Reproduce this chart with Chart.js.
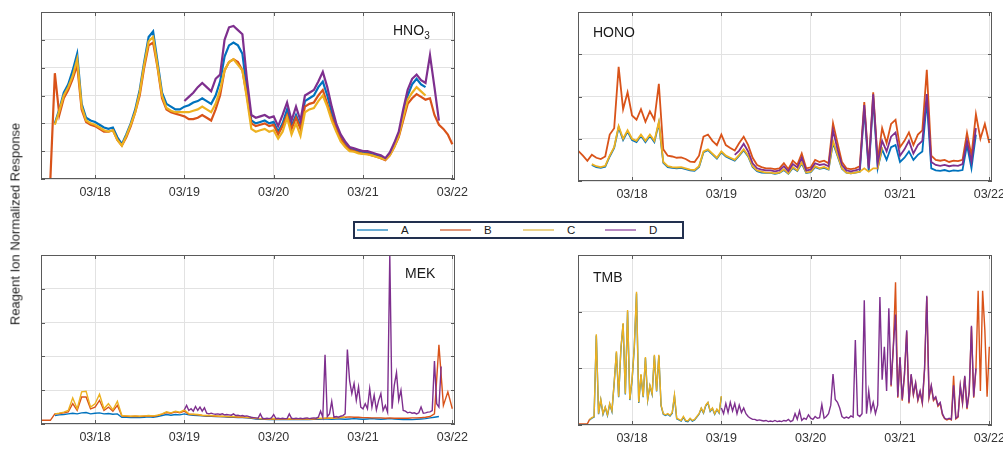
<!DOCTYPE html>
<html>
<head>
<meta charset="utf-8">
<script src="https://cdn.jsdelivr.net/npm/chart.js@4.4.1/dist/chart.umd.min.js"></script>
<style>
  html, body { margin: 0; padding: 0; background: #fff; }
  #page { position: relative; width: 1003px; height: 450px; overflow: hidden;
          font-family: "Liberation Sans", Arial, sans-serif; color: #222; }
  #page canvas { position: absolute; }
  .title { position: absolute; font-size: 14px; line-height: 14px; color: #1a1a1a; white-space: nowrap; }
  .title sub { font-size: 10px; line-height: 0; vertical-align: -4px; }
  #ylabel { position: absolute; left: 15px; top: 224px; white-space: nowrap; font-size: 13px; color: #222;
            transform: translate(-50%, -50%) rotate(-90deg); }
  #legend { position: absolute; left: 353px; top: 221px; width: 331px; height: 18px;
            box-sizing: border-box; border: 2px solid #22304f; background: #fff; }
  .item { position: absolute; top: 0; height: 14px; }
  .item i { position: absolute; left: 0; top: 6px; width: 31px; height: 0; border-top: 2px solid; }
  .item span { position: absolute; left: 44px; top: 0; font-size: 11.5px; line-height: 14px; color: #1a1a1a; }
</style>
</head>
<body>
<div id="page">
  <canvas id="hno3"></canvas>
  <canvas id="hono"></canvas>
  <canvas id="mek"></canvas>
  <canvas id="tmb"></canvas>
  <div class="title" style="left:393px;top:23px">HNO<sub>3</sub></div>
  <div class="title" style="left:593px;top:25px">HONO</div>
  <div class="title" style="left:405px;top:266px">MEK</div>
  <div class="title" style="left:593px;top:270px">TMB</div>
  <div id="ylabel">Reagent Ion Normalized Response</div>
  <div id="legend">
    <div class="item" style="left:2px"><i style="border-color:#6aaed6"></i><span>A</span></div>
    <div class="item" style="left:85px"><i style="border-color:#e0977a"></i><span>B</span></div>
    <div class="item" style="left:168px"><i style="border-color:#ecd38a"></i><span>C</span></div>
    <div class="item" style="left:250px"><i style="border-color:#b889c2"></i><span>D</span></div>
  </div>
</div>
<script>
// time axis in days since 03/17 00:00
const tickDays = [1, 2, 3, 4, 5];
const tickLabels = ['03/18', '03/19', '03/20', '03/21', '03/22'];

// ---- HNO3 (step 0.05 d) ----
const hno3A = [ // from 0.55
  2.0, 2.5, 3.1, 3.4, 3.9, 4.5, 2.7, 2.2, 2.1, 2.05,
  1.95, 1.85, 1.8, 1.85, 1.5, 1.25, 1.6, 2.0, 2.5, 3.2,
  4.2, 5.1, 5.3, 4.2, 3.1, 2.7, 2.6, 2.5, 2.5, 2.6,
  2.65, 2.75, 2.8, 2.9, 2.8, 2.7, 3.0, 3.5, 4.4, 4.8,
  4.9, 4.8, 4.5, 3.2, 2.1, 2.0, 2.05, 2.1, 2.0, 2.05,
  1.7, 2.0, 2.5, 1.9, 2.3, 1.9, 2.8, 2.9, 3.0, 3.3,
  3.5, 3.0, 2.4, 1.9, 1.5, 1.25, 1.1, 1.05, 1.0, 0.95,
  0.95, 0.9, 0.85, 0.8, 0.72, 0.9, 1.2, 1.6, 2.3, 3.0,
  3.4, 3.6, 3.4, 3.3
];
const hno3B = [ // from 0.40
  0, 0, 0, 3.8, 2.3, 2.9, 3.2, 3.6, 4.1, 2.5,
  2.05, 1.95, 1.9, 1.8, 1.7, 1.7, 1.75, 1.4, 1.2, 1.5,
  1.9, 2.4, 3.0, 4.0, 4.8, 4.9, 4.0, 2.9, 2.5, 2.4,
  2.35, 2.3, 2.25, 2.15, 2.15, 2.2, 2.3, 2.2, 2.1, 2.5,
  3.0, 3.9, 4.2, 4.3, 4.2, 3.9, 3.0, 2.0, 1.9, 1.95,
  2.0, 1.9, 1.95, 1.6, 1.9, 2.3, 1.8, 2.2, 1.8, 2.6,
  2.7, 2.75, 3.0, 3.2, 2.7, 2.2, 1.8, 1.45, 1.2, 1.05,
  1.0, 0.95, 0.9, 0.9, 0.85, 0.8, 0.75, 0.68, 0.85, 1.15,
  1.5, 2.1, 2.7, 2.9, 3.05, 2.95, 2.85, 2.9, 2.3, 1.95,
  1.8, 1.6, 1.25
];
const hno3C = [ // from 0.55
  1.95, 2.45, 3.0, 3.3, 3.7, 4.3, 2.6, 2.1, 2.0, 1.95,
  1.85, 1.75, 1.7, 1.75, 1.4, 1.2, 1.55, 1.95, 2.4, 3.1,
  4.1, 4.95, 5.1, 4.05, 3.0, 2.55, 2.45, 2.4, 2.4, 2.4,
  2.4, 2.45, 2.5, 2.6, 2.5, 2.4, 2.7, 3.2, 3.9, 4.2,
  4.3, 4.1, 3.9, 2.9, 1.8, 1.7, 1.75, 1.8, 1.7, 1.75,
  1.45, 1.7, 2.2, 1.6, 2.0, 1.55, 2.4, 2.5, 2.55, 2.8,
  3.0, 2.6, 2.1, 1.7, 1.35, 1.15, 1.0, 0.98, 0.92, 0.9,
  0.88, 0.85, 0.8, 0.75, 0.7, 0.85, 1.15, 1.55, 2.2, 2.85,
  3.1, 3.3, 3.15, 3.0
];
const hno3D = [ // from 2.00
  2.8, 2.95, 3.1, 3.3, 3.45, 3.3, 3.15, 3.6, 3.75, 5.0,
  5.45, 5.5, 5.35, 5.2, 3.6, 2.3, 2.2, 2.25, 2.3, 2.2,
  2.25, 1.9, 2.3, 2.75, 2.1, 2.6, 2.1, 3.0, 3.1, 3.2,
  3.5, 3.85, 3.3, 2.6, 2.0, 1.6, 1.35, 1.15, 1.1, 1.05,
  1.0, 1.0, 0.95, 0.9, 0.85, 0.75, 0.95, 1.3, 1.7, 2.5,
  3.2, 3.6, 3.75, 3.55, 3.45, 4.45, 3.3, 2.1
];

// ---- HONO (step 0.05 d) ----
const honoA = [ // from 0.55
  0.38, 0.33, 0.31, 0.34, 0.58, 0.78, 1.27, 0.97, 1.17, 0.97,
  0.92, 1.07, 0.92, 1.07, 0.92, 1.37, 0.43, 0.33, 0.31, 0.3,
  0.31, 0.28, 0.25, 0.24, 0.33, 0.68, 0.73, 0.63, 0.53, 0.68,
  0.58, 0.53, 0.48, 0.6, 0.73, 0.58, 0.33, 0.23, 0.2, 0.19,
  0.19, 0.17, 0.19, 0.26, 0.17, 0.31, 0.24, 0.42, 0.19, 0.21,
  0.33, 0.29, 0.31, 0.27, 0.9, 0.6, 0.29, 0.2, 0.18, 0.2,
  0.22, 1.7, 0.22, 1.95, 0.3, 0.75, 0.5, 0.8, 0.85, 0.45,
  0.55, 0.7, 0.5, 0.62, 0.7, 1.9, 0.3, 0.25, 0.24, 0.26,
  0.23, 0.25, 0.24, 0.26, 0.85, 0.3, 1.1
];
const honoB = [ // from 0.40
  0.71, 0.6, 0.48, 0.62, 0.55, 0.52, 0.58, 1.1, 1.25, 2.7,
  1.7, 2.1, 1.55, 1.45, 1.7, 1.4, 1.65, 1.45, 2.3, 0.75,
  0.6, 0.58, 0.55, 0.56, 0.52, 0.46, 0.45, 0.6, 1.05, 1.1,
  0.95, 0.85, 1.1, 0.85, 0.78, 0.72, 0.9, 1.05, 0.85, 0.55,
  0.38, 0.33, 0.3, 0.3, 0.28, 0.3, 0.42, 0.28, 0.48, 0.38,
  0.65, 0.3, 0.32, 0.5, 0.45, 0.48, 0.42, 1.37, 0.9, 0.45,
  0.3, 0.28, 0.3, 0.35, 1.87, 0.35, 2.1, 0.5, 1.25, 0.9,
  1.35, 1.45, 0.8, 0.95, 1.15, 0.85, 1.1, 1.2, 2.63, 0.6,
  0.5, 0.48, 0.5, 0.45, 0.48, 0.47, 0.5, 1.14, 0.6, 1.58,
  1.0, 1.35, 0.9
];
const honoC = [ // from 0.55
  0.4, 0.35, 0.33, 0.36, 0.6, 0.8, 1.3, 1.0, 1.2, 1.0,
  0.95, 1.1, 0.95, 1.1, 0.95, 1.4, 0.45, 0.35, 0.33, 0.32,
  0.33, 0.3, 0.27, 0.26, 0.35, 0.7, 0.75, 0.65, 0.55, 0.7,
  0.6, 0.55, 0.5, 0.62, 0.75, 0.6, 0.35, 0.25, 0.22, 0.2,
  0.2, 0.18, 0.2, 0.28, 0.18, 0.33, 0.25, 0.45, 0.2, 0.22,
  0.35, 0.3, 0.33, 0.28, 0.95, 0.62, 0.3, 0.2, 0.18, 0.2,
  0.22, 0.3, 0.22, 0.3, 0.3, 0.8
];
const honoD = [ // from 2.15
  0.62, 0.72, 0.88, 0.7, 0.42, 0.3, 0.27, 0.25, 0.25, 0.23,
  0.25, 0.35, 0.23, 0.4, 0.32, 0.55, 0.25, 0.27, 0.42, 0.38,
  0.4, 0.35, 1.2, 0.75, 0.38, 0.25, 0.23, 0.25, 0.28, 1.8,
  0.3, 2.05, 0.42, 0.95, 0.7, 1.05, 1.15, 0.6, 0.75, 0.95,
  0.65, 0.85, 0.95, 2.06, 0.45, 0.38, 0.36, 0.38, 0.35, 0.37,
  0.36, 0.4, 0.95, 0.45, 1.25
];

// ---- MEK ----
const mekA = [ // from 0.55, step 0.05
  0.25, 0.27, 0.28, 0.3, 0.32, 0.3, 0.33, 0.34, 0.3, 0.32, 0.33, 0.3, 0.31, 0.29, 0.3,
  0.2, 0.2, 0.19, 0.2, 0.19, 0.2, 0.21, 0.2, 0.22, 0.25, 0.28, 0.26, 0.28, 0.27, 0.3,
  0.27, 0.26, 0.25, 0.24, 0.23, 0.23, 0.22, 0.22, 0.21, 0.2, 0.2, 0.19, 0.19, 0.18, 0.17,
  0.15, 0.14, 0.14, 0.13, 0.14, 0.13, 0.14, 0.13, 0.13, 0.14, 0.13, 0.14, 0.13, 0.14, 0.14,
  0.15, 0.15, 0.14, 0.15, 0.15, 0.14, 0.15, 0.16, 0.15, 0.14, 0.15, 0.16, 0.15, 0.14, 0.15,
  0.16, 0.15, 0.14, 0.13, 0.14, 0.13, 0.14, 0.15, 0.16, 0.18, 0.2, 0.22
];
const mekB = [ // from 0.40, step 0.05
  0.11, 0.11, 0.11, 0.3, 0.31, 0.33, 0.36, 0.6, 0.4, 0.8,
  0.8, 0.45, 0.5, 0.7, 0.4, 0.5, 0.38, 0.55, 0.24, 0.23,
  0.22, 0.23, 0.22, 0.23, 0.24, 0.23, 0.25, 0.29, 0.34, 0.32,
  0.36, 0.33, 0.38, 0.29, 0.28, 0.27, 0.25, 0.24, 0.24, 0.23,
  0.22, 0.22, 0.21, 0.21, 0.2, 0.2, 0.19, 0.18, 0.16, 0.16,
  0.15, 0.15, 0.15, 0.15, 0.15, 0.15, 0.15, 0.15, 0.15, 0.15,
  0.15, 0.15, 0.16, 0.16, 0.17, 0.17, 0.18, 0.19, 0.2, 0.21,
  0.2, 0.2, 0.19, 0.19, 0.18, 0.18, 0.18, 0.17, 0.18, 0.17,
  0.17, 0.17, 0.17, 0.18, 0.18, 0.19, 0.2, 0.22, 0.3, 2.34,
  0.55, 0.95, 0.45
];
const mekC = [ // from 0.55, step 0.05
  0.3, 0.32, 0.35, 0.4, 0.77, 0.45, 0.95, 0.97, 0.5, 0.6,
  0.88, 0.45, 0.6, 0.42, 0.67, 0.25, 0.24, 0.23, 0.24, 0.23,
  0.24, 0.25, 0.24, 0.26, 0.3, 0.36, 0.33, 0.38, 0.35, 0.42,
  0.3, 0.29, 0.28, 0.26, 0.25, 0.25, 0.24, 0.23, 0.23, 0.22,
  0.22, 0.21, 0.21, 0.2, 0.19, 0.17, 0.16, 0.16, 0.15, 0.16,
  0.15, 0.16, 0.15, 0.16, 0.15, 0.15, 0.16, 0.15, 0.16, 0.17,
  0.17, 0.18, 0.17, 0.18, 0.2, 0.2
];
const mekD = [ // from 2.00, step 0.025
  0.42, 0.55, 0.4, 0.45, 0.38, 0.52, 0.4, 0.5,
  0.38, 0.48, 0.32, 0.3, 0.32, 0.3, 0.29, 0.3,
  0.28, 0.3, 0.27, 0.28, 0.27, 0.26, 0.3, 0.25,
  0.26, 0.24, 0.25, 0.23, 0.24, 0.22, 0.2, 0.19,
  0.18, 0.17, 0.3, 0.17, 0.16, 0.17, 0.16, 0.18,
  0.28, 0.16, 0.17, 0.16, 0.17, 0.16, 0.16, 0.3,
  0.17, 0.16, 0.17, 0.16, 0.17, 0.16, 0.17, 0.18,
  0.16, 0.17, 0.18, 0.17, 0.2, 0.38, 0.2, 2.05,
  0.22, 0.3, 0.67, 0.2, 0.22, 0.2, 0.23, 0.25,
  0.3, 2.2, 1.28, 0.9, 1.2, 0.7, 1.1, 0.5,
  0.45, 0.6, 0.45, 1.05, 0.5, 0.85, 0.42, 0.7,
  0.9, 0.4, 0.55, 0.35, 5.0, 0.45, 1.14, 1.52,
  0.7, 1.0, 0.4, 0.38, 0.33, 0.35, 0.32, 0.33,
  0.3, 0.33, 0.5, 0.32, 0.33, 0.35, 0.36, 0.4,
  1.86, 0.6, 0.5, 1.7
];

// ---- TMB (step 0.025 d) ----
const tmbA = [ // from 0.525
  0.09, 0.12, 0.14, 1.58, 0.19, 0.44, 0.19, 0.31,
  0.17, 0.37, 0.24, 0.74, 1.28, 0.49, 1.33, 1.78,
  0.54, 2.0, 0.44, 0.78, 1.36, 2.32, 0.39, 0.88,
  0.49, 1.18, 0.44, 0.69, 0.54, 1.22, 0.59, 1.22,
  0.34, 0.19, 0.17, 0.19, 0.16, 0.21, 0.51, 0.11,
  0.09, 0.07, 0.14, 0.07, 0.06, 0.11, 0.07, 0.09,
  0.14, 0.19, 0.29, 0.21, 0.34, 0.39, 0.24, 0.29,
  0.19, 0.27, 0.21, 0.5
];
const tmbBStart = [0.02, 0.02, 0.02, 0.02, 0.02, 0.1]; // from 0.40
const tmbBEnd = [ // from 3.90
  0.68, 1.36, 2.52, 0.48, 1.18, 0.43, 0.88, 1.65,
  0.38, 0.88, 0.53, 0.73, 0.43, 0.58, 0.38, 0.98,
  2.26, 0.48, 0.68, 0.43, 0.48, 0.33, 0.38, 0.18,
  0.11, 0.09, 0.11, 0.09, 0.87, 0.11, 0.14, 0.68,
  0.38, 0.85, 0.28, 0.58, 1.73, 0.48, 0.98, 2.37,
  0.6, 2.37, 1.67, 0.5, 1.38
];
const tmbC = [ // from 0.525
  0.1, 0.13, 0.15, 1.6, 0.2, 0.45, 0.2, 0.32,
  0.18, 0.38, 0.25, 0.75, 1.3, 0.5, 1.35, 1.8,
  0.55, 2.03, 0.45, 0.8, 1.38, 2.35, 0.4, 0.9,
  0.5, 1.2, 0.45, 0.7, 0.55, 1.24, 0.6, 1.24,
  0.35, 0.2, 0.18, 0.2, 0.17, 0.22, 0.53, 0.12,
  0.1, 0.08, 0.15, 0.08, 0.07, 0.12, 0.08, 0.1,
  0.15, 0.2, 0.3, 0.22, 0.35, 0.4, 0.25, 0.3,
  0.2, 0.28, 0.22, 0.51
];
const tmbD = [ // from 2.00
  0.3, 0.2, 0.38, 0.22, 0.4, 0.25, 0.38, 0.2,
  0.35, 0.22, 0.3, 0.2, 0.15, 0.12, 0.1, 0.1,
  0.08, 0.09, 0.08, 0.07, 0.08, 0.06, 0.07, 0.06,
  0.08, 0.06, 0.07, 0.06, 0.08, 0.07, 0.1, 0.06,
  0.08, 0.2, 0.1, 0.25, 0.08, 0.12, 0.1, 0.18,
  0.12, 0.1, 0.15, 0.12, 0.13, 0.36, 0.12, 0.15,
  0.2, 0.35, 0.9, 0.45, 0.4, 0.3, 0.15, 0.12,
  0.14, 0.12, 0.16, 0.14, 1.5, 0.18, 0.15, 0.2,
  2.2, 0.2, 0.6, 0.25, 0.4, 0.2, 0.35, 2.26,
  0.8, 1.38, 0.6, 2.06, 0.7, 1.38, 1.95, 0.5,
  1.2, 0.45, 0.9, 1.67, 0.4, 0.9, 0.55, 0.75,
  0.45, 0.6, 0.4, 1.0, 2.28, 0.5, 0.7, 0.45,
  0.5, 0.35, 0.4, 0.2, 0.12, 0.1, 0.12, 0.1,
  0.7, 0.12, 0.15, 0.7, 0.4, 0.87, 0.3, 0.6,
  1.75, 0.5, 1.0
];

// sample times -> points
function points(t0, step, vals) {
  return vals.map((v, i) => ({ x: +(t0 + i * step).toFixed(3), y: v }));
}

const seriesStyle = {
  A: { color: '#0072BD', order: 3 },
  B: { color: '#D95319', order: 2 },
  C: { color: '#EDB120', order: 1 },
  D: { color: '#7E2F8E', order: 0 }
};

const PAD = { left: 20, right: 24, top: 4, bottom: 2 };

const panels = [
  { id: 'hno3', box: [41, 12, 414, 173], yMax: 6, lw: 2.2,
    series: {
      A: points(0.55, 0.05, hno3A),
      B: points(0.40, 0.05, hno3B),
      C: points(0.55, 0.05, hno3C),
      D: points(2.00, 0.05, hno3D) } },
  { id: 'hono', box: [578, 12, 414, 175], yMax: 4, lw: 1.8,
    series: {
      A: points(0.55, 0.05, honoA),
      B: points(0.40, 0.05, honoB),
      C: points(0.55, 0.05, honoC),
      D: points(2.15, 0.05, honoD) } },
  { id: 'mek', box: [41, 255, 414, 175], yMax: 5, lw: 1.4,
    series: {
      A: points(0.55, 0.05, mekA),
      B: points(0.40, 0.05, mekB),
      C: points(0.55, 0.05, mekC),
      D: points(2.00, 0.025, mekD) } },
  { id: 'tmb', box: [578, 255, 414, 176], yMax: 3, lw: 1.4,
    series: {
      A: points(0.525, 0.025, tmbA),
      B: points(0.40, 0.025, tmbBStart).concat([{ x: 0.6, y: null }], points(3.90, 0.025, tmbBEnd)),
      C: points(0.525, 0.025, tmbC),
      D: points(2.00, 0.025, tmbD) } }
];

// box around the plot area with small inward tick marks
const framePlugin = {
  id: 'frame',
  afterDatasetsDraw(chart) {
    const { ctx, chartArea: a, scales } = chart;
    ctx.save();
    ctx.strokeStyle = '#5a5a5a';
    ctx.lineWidth = 1;
    ctx.beginPath();
    scales.y.ticks.forEach((t) => {
      const y = Math.round(scales.y.getPixelForValue(t.value)) + 0.5;
      ctx.moveTo(a.left, y); ctx.lineTo(a.left + 4, y);
      ctx.moveTo(a.right, y); ctx.lineTo(a.right - 4, y);
    });
    scales.x.ticks.forEach((t) => {
      const x = Math.round(scales.x.getPixelForValue(t.value)) + 0.5;
      ctx.moveTo(x, a.bottom); ctx.lineTo(x, a.bottom - 4);
      ctx.moveTo(x, a.top); ctx.lineTo(x, a.top + 4);
    });
    ctx.stroke();
    ctx.strokeRect(Math.round(a.left) + 0.5, Math.round(a.top) + 0.5,
                   Math.round(a.width) - 1, Math.round(a.height) - 1);
    ctx.restore();
  }
};

Chart.defaults.font.family = '"Liberation Sans", Arial, sans-serif';

panels.forEach((p) => {
  const [x, y, w, h] = p.box;
  const cv = document.getElementById(p.id);
  cv.width = w + PAD.left + PAD.right;
  cv.height = h + PAD.top + PAD.bottom + 21;

  const datasets = ['A', 'B', 'C', 'D'].map((k) => ({
    label: k,
    data: p.series[k],
    borderColor: seriesStyle[k].color,
    borderWidth: p.lw,
    order: seriesStyle[k].order,
    pointRadius: 0,
    tension: 0,
    spanGaps: false
  }));

  const chart = new Chart(cv.getContext('2d'), {
    type: 'line',
    data: { datasets },
    options: {
      responsive: false,
      animation: false,
      events: [],
      layout: { padding: PAD },
      plugins: { legend: { display: false }, tooltip: { enabled: false } },
      scales: {
        x: {
          type: 'linear',
          min: 0.395,
          max: 5.03,
          afterBuildTicks: (scale) => { scale.ticks = tickDays.map((v) => ({ value: v })); },
          ticks: {
            padding: 6,
            color: '#333',
            font: { size: 12.5, lineHeight: 1.2 },
            maxRotation: 0,
            autoSkip: false,
            callback: (value, i) => tickLabels[i]
          },
          grid: { color: '#e2e2e2', drawTicks: false },
          border: { display: false }
        },
        y: {
          min: 0,
          max: p.yMax,
          ticks: { stepSize: 1, display: false },
          grid: { color: '#e2e2e2', drawTicks: false },
          border: { display: false }
        }
      }
    },
    plugins: [framePlugin]
  });

  // size the canvas so the plot area is exactly w x h, then place it
  const a = chart.chartArea;
  chart.resize(cv.width + (w - (a.right - a.left)), cv.height + (h - (a.bottom - a.top)));
  const b = chart.chartArea;
  cv.style.left = Math.round(x - b.left) + 'px';
  cv.style.top = Math.round(y - b.top) + 'px';
});
</script>
</body>
</html>
